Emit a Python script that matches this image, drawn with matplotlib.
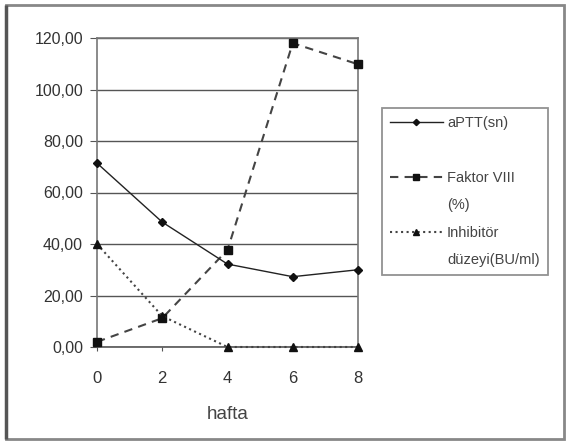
import matplotlib
matplotlib.use("Agg")
import matplotlib.pyplot as plt
from matplotlib.lines import Line2D
from matplotlib.patches import Rectangle
from matplotlib.ticker import FuncFormatter

plt.rcParams['font.family'] = ['Liberation Sans', 'DejaVu Sans']

hafta = [0, 2, 4, 6, 8]
aptt = [71.4, 48.5, 32.2, 27.3, 30.0]
faktor8 = [2.0, 11.2, 37.7, 118.0, 109.8]
inhibitor = [40.0, 12.0, 0.0, 0.0, 0.0]
y_ticks = [0, 20, 40, 60, 80, 100, 120]
x_ticks = [0, 2, 4, 6, 8]

W, H = 575, 442
fig = plt.figure(figsize=(W / 100, H / 100), dpi=100)
fig.patch.set_facecolor('white')

# plot area in pixel terms: left 97, right 358, top 38, bottom 347
ax = fig.add_axes([97 / W, 1 - 347 / H, (358 - 97) / W, (347 - 38) / H])
ax.set_xlim(0, 8)
ax.set_ylim(0, 120)

ax.set_yticks(y_ticks)
ax.set_xticks(x_ticks)
ax.yaxis.set_major_formatter(FuncFormatter(lambda v, p: f"{v:.2f}".replace('.', ',')))
ax.grid(axis='y', color='#555555', linewidth=1.0)
ax.set_axisbelow(True)
for s in ax.spines.values():
    s.set_color('#777777')
    s.set_linewidth(1.2)
ax.spines['bottom'].set_color('#555555')
ax.tick_params(axis='y', length=5, color='#555555', labelsize=11.5, labelcolor='#333333', pad=5)
ax.tick_params(axis='x', length=3, color='#555555', labelsize=12, labelcolor='#333333', pad=14)
ax.set_xlabel('hafta', fontsize=13.5, color='#444444', labelpad=15)

l1, = ax.plot(hafta, aptt, '-', color='#222222', lw=1.0, marker='D', ms=4,
              mfc='#111111', mec='#111111', label='aPTT(sn)', clip_on=False, zorder=4)
l2, = ax.plot(hafta, faktor8, '--', color='#444444', lw=1.5, marker='s', ms=6,
              mfc='#111111', mec='#111111', dashes=(4, 3), label='Faktor VIII',
              clip_on=False, zorder=3)
l3, = ax.plot(hafta, inhibitor, ':', color='#444444', lw=1.5, marker='^', ms=5.5,
              mfc='#111111', mec='#111111', label='Inhibitör',
              clip_on=False, zorder=3)

# legend rows: each wrapped label continues on a row with an empty handle
blank = Line2D([], [], color='none')
handles = [l1, blank, l2, blank, l3, blank]
labels = ['aPTT(sn)', ' ', 'Faktor VIII', '(%)', 'Inhibitör', 'düzeyi(BU/ml)']

leg = fig.legend(handles=handles, labels=labels, loc='upper left',
                 bbox_to_anchor=(382 / W, 1 - 108 / H), fontsize=10.5,
                 frameon=True, fancybox=False, edgecolor='#777777',
                 handlelength=3.6, labelspacing=0.92, borderpad=0.55,
                 handletextpad=0.3, borderaxespad=0, labelcolor='#444444',
                 markerscale=0.8)
leg.get_frame().set_linewidth(1.3)

# outer chart frame
fig.patches.append(Rectangle((6 / W, 1 - 439 / H), (564 - 6) / W, (439 - 5) / H,
                             transform=fig.transFigure, fill=False,
                             edgecolor='#888888', linewidth=2.0))
fig.patches.append(Rectangle((6 / W, 1 - 439 / H), 0, (439 - 5) / H,
                             transform=fig.transFigure, fill=False,
                             edgecolor='#555555', linewidth=2.5))

fig.savefig('out.png', dpi=100)
